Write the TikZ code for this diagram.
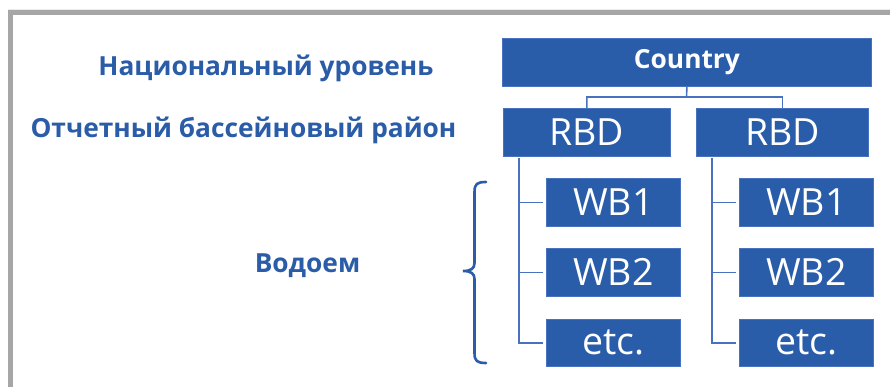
\documentclass[tikz,border=0pt]{standalone}
\usepackage{fontspec}
\setmainfont{Open Sans}
\definecolor{boxblue}{RGB}{41,93,169}
\definecolor{textblue}{RGB}{42,92,168}
\definecolor{lineblue}{RGB}{72,114,192}
\definecolor{framegray}{RGB}{166,166,166}
\begin{document}
\begin{tikzpicture}[x=1pt,y=-1pt,
  box/.style={draw=lineblue, line width=0.8pt, fill=boxblue, text=white, inner sep=0pt, anchor=north west},
  conn/.style={draw=lineblue, line width=1.6pt},
  lvl/.style={text=textblue, font=\fontsize{26.3}{30}\selectfont\bfseries, inner sep=0pt},
  big/.style={font=\fontsize{37.5}{42}\selectfont},
  brace/.style={draw=textblue, line width=2.6pt, line cap=round}]
\path[fill=white] (0,0) rectangle (890,387);
\useasboundingbox (0,0) rectangle (890,387);
% frame
\draw[line width=1pt, draw=black!8] (8,9.5) -- (890,9.5);
\draw[line width=5pt, draw=framegray] (10.5,387) -- (10.5,12.5) -- (890,12.5);
% level labels
\node[lvl] (nat) at (266,68) {Национальный уровень};
\node[lvl] (rbdl) at (243.5,130) {Отчетный бассейновый район};
\node[lvl] (wbl) at (307.5,266) {Водоем};
% boxes
\node[box, minimum width=369, minimum height=48, font=\fontsize{26.3}{30}\selectfont\bfseries] (country) at (502,38) {Country};
\node[box, big, minimum width=167, minimum height=48] (rbd1) at (503,108) {RBD};
\node[box, big, minimum width=172, minimum height=48] (rbd2) at (696,108) {RBD};
\node[box, big, minimum width=134, minimum height=48] (wb11) at (546,178) {WB1};
\node[box, big, minimum width=134, minimum height=48] (wb12) at (546,248) {WB2};
\node[box, big, minimum width=134, minimum height=47] (etc1) at (546,319) {etc.};
\node[box, big, minimum width=134, minimum height=48] (wb21) at (739,178) {WB1};
\node[box, big, minimum width=134, minimum height=48] (wb22) at (739,248) {WB2};
\node[box, big, minimum width=134, minimum height=47] (etc2) at (739,319) {etc.};
% connectors
\coordinate (j) at (686.5,97);
\draw[conn] (country.south) -- (j) -| (rbd1.north);
\draw[conn] (j) -| (rbd2.north);
\coordinate (v1) at (519,158);
\coordinate (v2) at (712,158);
\draw[conn] (v1) |- ([xshift=-3pt]etc1.west);
\draw[conn] (v1 |- wb11.west) -- ([xshift=-3pt]wb11.west);
\draw[conn] (v1 |- wb12.west) -- ([xshift=-3pt]wb12.west);
\draw[conn] (v2) |- ([xshift=-3pt]etc2.west);
\draw[conn] (v2 |- wb21.west) -- ([xshift=-3pt]wb21.west);
\draw[conn] (v2 |- wb22.west) -- ([xshift=-3pt]wb22.west);
% brace
\draw[brace] (486,182) .. controls (477,182) and (474.5,184) .. (474.5,192) -- (474.5,263)
  .. controls (474.5,268.5) and (471,271) .. (463,271)
  .. controls (471,271) and (474.5,273.5) .. (474.5,279) -- (474.5,353)
  .. controls (474.5,361) and (477,363) .. (486,363);
\end{tikzpicture}
\end{document}
